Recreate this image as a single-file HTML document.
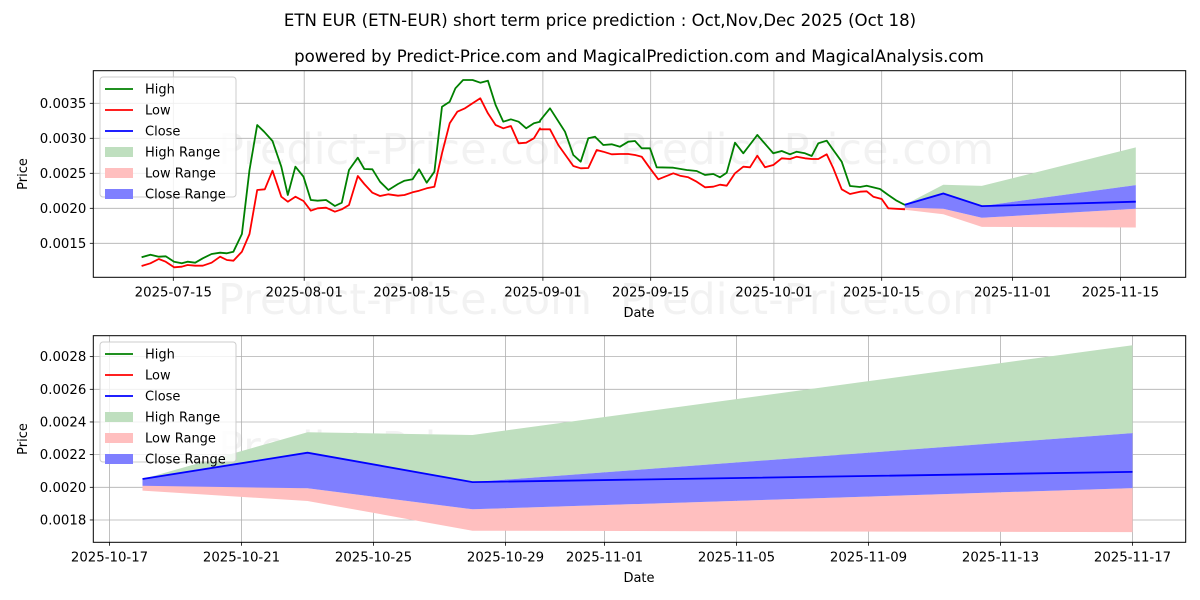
<!DOCTYPE html>
<html><head><meta charset="utf-8"><style>
html,body{margin:0;padding:0;background:#fff;}
svg{display:block;font-family:"DejaVu Sans","Liberation Sans",sans-serif;}
</style></head><body>
<svg id="s" width="1200" height="600" viewBox="0 0 1200 600" xmlns="http://www.w3.org/2000/svg">
<rect width="1200" height="600" fill="#fff"/>
<text x="600" y="26" font-size="16.6" text-anchor="middle">ETN EUR (ETN-EUR) short term price prediction : Oct,Nov,Dec 2025 (Oct 18)</text>
<text x="639" y="62" font-size="16.6" text-anchor="middle">powered by Predict-Price.com and MagicalPrediction.com and MagicalAnalysis.com</text>
<g id="wm" font-size="43" fill="#000" fill-opacity="0.05">
<text x="218" y="164">Predict-Price.com</text><text x="620" y="164">Predict-Price.com</text>
<text x="218" y="314">Predict-Price.com</text><text x="620" y="314">Predict-Price.com</text>
<text x="218" y="462">Predict-Price.com</text><text x="620" y="462">Predict-Price.com</text>
</g>
<g id="gtop"></g>
<g id="gbot"></g>
</svg>
<script>
(function(){
var NS="http://www.w3.org/2000/svg";
function el(p,t,a,txt){var e=document.createElementNS(NS,t);for(var k in a)e.setAttribute(k,a[k]);if(txt!==undefined)e.textContent=txt;p.appendChild(e);return e;}
function pts(a){return a.map(function(p){return p[0].toFixed(1)+","+p[1].toFixed(1)}).join(" ");}
var gt=document.getElementById("gtop"),gb=document.getElementById("gbot");
var L=93.3,R=1185.7,T=70.7,B=277.3;
function ty(v){return 208.3-(v-0.002)*70000;}
function tx(d){return 173.3+7.70*d;}
[0.0015,0.0020,0.0025,0.0030,0.0035].forEach(function(v){var y=ty(v);
 el(gt,"line",{x1:L,x2:R,y1:y,y2:y,stroke:"#b0b0b0","stroke-width":0.8});
 el(gt,"line",{x1:L-3.5,x2:L,y1:y,y2:y,stroke:"#000","stroke-width":0.8});
 el(gt,"text",{x:L-7,y:y+4.5,"font-size":13.3,"text-anchor":"end"},v.toFixed(4));});
var xt=[[0,"2025-07-15"],[17,"2025-08-01"],[31,"2025-08-15"],[48,"2025-09-01"],[62,"2025-09-15"],[78,"2025-10-01"],[92,"2025-10-15"],[109,"2025-11-01"],[123,"2025-11-15"]];
xt.forEach(function(t){var x=tx(t[0]);
 el(gt,"line",{x1:x,x2:x,y1:T,y2:B,stroke:"#b0b0b0","stroke-width":0.8});
 el(gt,"line",{x1:x,x2:x,y1:B,y2:B+3.5,stroke:"#000","stroke-width":0.8});
 el(gt,"text",{x:x,y:B+19,"font-size":13.3,"text-anchor":"middle"},t[1]);});
var fd=[95,100,105,125];
function F(vals,f,g){return vals.map(function(v,i){return [f(fd[i]),g(v)];});}
var gU=[0.00205,0.002337,0.00232,0.00287],cU=[0.002051,0.002212,0.002032,0.002332],
 cL=[0.00201,0.001994,0.001865,0.001995],rL=[0.00198,0.001916,0.001734,0.001726],
 rU=[0.00203,0.001994,0.001865,0.001995],cl=[0.002051,0.002212,0.002032,0.002094];
function band(g,fx,fy,up,lo,col){var a=F(up,fx,fy),b=F(lo,fx,fy).reverse();el(g,"polygon",{points:pts(a.concat(b)),fill:col});}
band(gt,tx,ty,gU,cU,"#bfdfbf");band(gt,tx,ty,rU,rL,"#ffbfbf");band(gt,tx,ty,cU,cL,"#7f7fff");
var h1=[[370,592],[393,584],[415,590],[433,589],[455,605],[475,610],[490,605],[510,608],[530,595],[553,582],[575,578],[593,580],[610,575],[632,522],[652,330],[672,195],[690,215],[712,243],[735,320],[752,405],[772,320],[793,350],[812,420],[830,422],[852,420],[875,438],[893,428],[912,330],[935,293],[952,327],[973,328],[993,365],[1015,390],[1040,372],[1057,362],[1078,358],[1095,328],[1115,368],[1135,335],[1155,140],[1175,125],[1190,85],[1210,60],[1235,60],[1255,68],[1275,62],[1295,135],[1315,185],[1335,178],[1355,185],[1375,205],[1395,190],[1411,185]];
var h2=[[0,92],[30,55],[75,125],[100,195],[122,215],[145,145],[165,140],[190,165],[215,163],[240,170],[265,155],[285,153],[305,175],[330,175],[350,232],[400,233],[440,240],[470,243],[495,255],[520,252],[540,262],[560,248],[585,158],[610,190],[652,135],[700,190],[725,183],[750,193],[770,185],[795,190],[815,198],[835,160],[860,152],[880,180],[905,215],[930,288],[960,291],[980,287],[1020,297],[1045,315],[1070,332],[1095,345]];
var l1=[[370,618],[393,610],[415,597],[433,605],[455,622],[475,620],[490,615],[510,617],[530,617],[553,608],[575,590],[593,600],[610,602],[632,575],[652,522],[672,390],[692,388],[712,332],[735,410],[752,425],[772,410],[793,423],[812,452],[830,445],[852,443],[875,455],[893,448],[912,435],[935,348],[952,372],[973,398],[993,408],[1015,403],[1040,407],[1057,405],[1078,397],[1095,392],[1115,385],[1135,380],[1155,280],[1175,190],[1195,155],[1215,145],[1235,130],[1255,115],[1275,160],[1295,195],[1315,205],[1335,198],[1355,250],[1375,248],[1395,235],[1411,205]];
var l2=[[0,118],[30,118],[55,165],[100,228],[122,235],[145,234],[170,180],[190,185],[215,193],[240,192],[265,192],[285,195],[305,200],[330,235],[355,268],[400,250],[420,257],[445,262],[470,275],[495,292],[520,290],[540,284],[560,287],[585,250],[610,230],[630,232],[652,197],[675,232],[700,225],[725,205],[750,207],[770,200],[795,205],[815,207],[835,207],[860,193],[880,235],[905,298],[930,312],[960,305],[980,304],[1000,320],[1025,327],[1045,355],[1095,358]];
function conv(a1,a2){return a1.map(function(p){return [p[0]/2.613,60+p[1]/3];}).concat(a2.map(function(p){return [540+p[0]/3,90+p[1]/3];}));}
el(gt,"polyline",{points:pts(conv(h1,h2)),fill:"none",stroke:"#008000","stroke-width":1.8,"stroke-linejoin":"round"});
el(gt,"polyline",{points:pts(conv(l1,l2)),fill:"none",stroke:"#ff0000","stroke-width":1.8,"stroke-linejoin":"round"});
el(gt,"polyline",{points:pts(F(cl,tx,ty)),fill:"none",stroke:"#0000ff","stroke-width":1.8});
el(gt,"rect",{x:L,y:T,width:R-L,height:B-T,fill:"none",stroke:"#000","stroke-width":1});
el(gt,"text",{x:639,y:317,"font-size":13,"text-anchor":"middle"},"Date");
el(gt,"text",{x:27,y:174,"font-size":13,"text-anchor":"middle",transform:"rotate(-90 27 174)"},"Price");
var T2=335.7,B2=542.3;
function by(v){return 487.3-(v-0.002)*163333;}
function bx(d){return 142.5+33*(d-95);}
[0.0018,0.0020,0.0022,0.0024,0.0026,0.0028].forEach(function(v){var y=by(v);
 el(gb,"line",{x1:L,x2:R,y1:y,y2:y,stroke:"#b0b0b0","stroke-width":0.8});
 el(gb,"line",{x1:L-3.5,x2:L,y1:y,y2:y,stroke:"#000","stroke-width":0.8});
 el(gb,"text",{x:L-7,y:y+4.5,"font-size":13.3,"text-anchor":"end"},v.toFixed(4));});
[[94,"2025-10-17"],[98,"2025-10-21"],[102,"2025-10-25"],[106,"2025-10-29"],[109,"2025-11-01"],[113,"2025-11-05"],[117,"2025-11-09"],[121,"2025-11-13"],[125,"2025-11-17"]].forEach(function(t){var x=bx(t[0]);
 el(gb,"line",{x1:x,x2:x,y1:T2,y2:B2,stroke:"#b0b0b0","stroke-width":0.8});
 el(gb,"line",{x1:x,x2:x,y1:B2,y2:B2+3.5,stroke:"#000","stroke-width":0.8});
 el(gb,"text",{x:x,y:B2+19,"font-size":13.3,"text-anchor":"middle"},t[1]);});
band(gb,bx,by,gU,cU,"#bfdfbf");band(gb,bx,by,rU,rL,"#ffbfbf");band(gb,bx,by,cU,cL,"#7f7fff");
el(gb,"polyline",{points:pts(F(cl,bx,by)),fill:"none",stroke:"#0000ff","stroke-width":1.8});
el(gb,"rect",{x:L,y:T2,width:R-L,height:B2-T2,fill:"none",stroke:"#000","stroke-width":1});
el(gb,"text",{x:639,y:582,"font-size":13,"text-anchor":"middle"},"Date");
el(gb,"text",{x:27,y:439,"font-size":13,"text-anchor":"middle",transform:"rotate(-90 27 439)"},"Price");
function legend(g,y0){
 el(g,"rect",{x:100,y:y0,width:136,height:120,rx:3,fill:"#fff","fill-opacity":0.8,stroke:"#ccc","stroke-width":1});
 var items=[["High","l","#008000"],["Low","l","#ff0000"],["Close","l","#0000ff"],["High Range","p","#bfdfbf"],["Low Range","p","#ffbfbf"],["Close Range","p","#7f7fff"]];
 items.forEach(function(it,i){var y=y0+12+i*21;
  if(it[1]=="l")el(g,"line",{x1:105,x2:133,y1:y,y2:y,stroke:it[2],"stroke-width":1.8});
  else el(g,"rect",{x:105,y:y-5,width:28,height:10,fill:it[2]});
  el(g,"text",{x:145,y:y+4.5,"font-size":13},it[0]);});
}
legend(gt,77);legend(gb,342);
})();
</script>
</body></html>
